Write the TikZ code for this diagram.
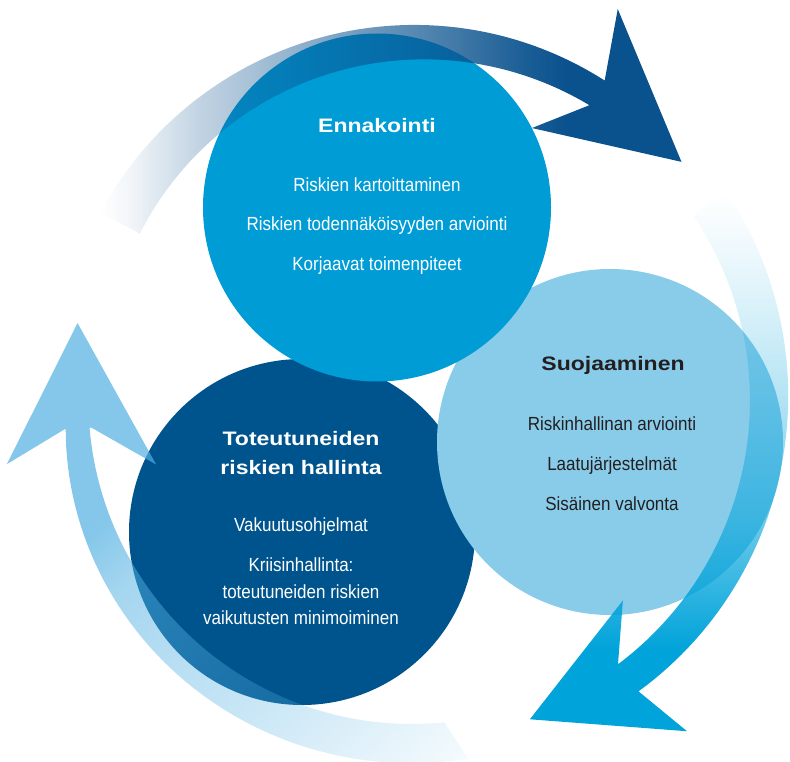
\documentclass[tikz,border=0pt]{standalone}
\usepackage{fontspec}
\usetikzlibrary{fadings}
\newfontfamily\bodyfont{Liberation Sans}[FakeStretch=0.895]
\newfontfamily\headfont{Liberation Sans}[FakeStretch=1.18]

\definecolor{ennblue}{RGB}{0,156,214}
\definecolor{suoblue}{RGB}{137,204,234}
\definecolor{totnavy}{RGB}{0,84,141}
\definecolor{darktext}{RGB}{35,31,32}
\definecolor{arrowtop}{RGB}{10,82,142}
\definecolor{arrowright}{RGB}{0,163,218}
\definecolor{arrowleft}{RGB}{80,175,225}

\begin{document}
% opacity ramps for the three cycle arrows (tail fades out);
% the path's bounding box covers the middle half of each ramp
\pgfdeclarehorizontalshading{topfadeshade}{100bp}{color(0bp)=(pgftransparent!100); color(25bp)=(pgftransparent!100); color(27.5bp)=(pgftransparent!95); color(33.5bp)=(pgftransparent!75); color(42bp)=(pgftransparent!55); color(53.5bp)=(pgftransparent!28); color(61bp)=(pgftransparent!8); color(65bp)=(pgftransparent!0); color(100bp)=(pgftransparent!0)}
\pgfdeclarefading{topfade}{\pgfuseshading{topfadeshade}}
\pgfdeclareverticalshading{rightfadeshade}{100bp}{color(0bp)=(pgftransparent!0); color(32.5bp)=(pgftransparent!0); color(37bp)=(pgftransparent!15); color(45bp)=(pgftransparent!45); color(55.5bp)=(pgftransparent!70); color(64.5bp)=(pgftransparent!86); color(72bp)=(pgftransparent!97); color(75bp)=(pgftransparent!100); color(100bp)=(pgftransparent!100)}
\pgfdeclarefading{rightfade}{\pgfuseshading{rightfadeshade}}
\pgfdeclarehorizontalshading{leftfadeshade}{200bp}{color(0bp)=(pgftransparent!30); color(87.5bp)=(pgftransparent!30); color(94.5bp)=(pgftransparent!49); color(114.5bp)=(pgftransparent!70); color(133bp)=(pgftransparent!93); color(136bp)=(pgftransparent!100); color(200bp)=(pgftransparent!100)}
\pgfdeclarefading{leftfade}{\pgfuseshading{leftfadeshade}}
\begin{tikzpicture}[x=1pt,y=-1pt,
  disc/.style={circle, minimum size=#1, inner sep=0pt, draw=none},
  headtext/.style={font=\headfont\bfseries\fontsize{19.5}{23}\selectfont, anchor=base, inner sep=0pt},
  bodytext/.style={font=\bodyfont\fontsize{19}{23}\selectfont, anchor=base, inner sep=0pt}]
\useasboundingbox (0,0) rectangle (790,762);

% the three phase discs
\node[disc=346pt, fill=totnavy] (toteutuneet) at (302,532) {};
\node[disc=346pt, fill=suoblue] (suojaaminen) at (610,442) {};
\node[disc=348pt, fill=ennblue] (ennakointi) at (377,207.5) {};

% arrow over the top: Ennakointi -> Suojaaminen
\begin{scope}[shift={(420,380)}]
  \fill[arrowtop, path fading=topfade]
    plot[domain=-152.4:-58.3, samples=60] (\x:{361-9*(\x+152.4)/94.1})
    -- (-61.9:420.5) -- (-39.8:340.8) -- (-66:275.8) -- (-58.3:323)
    -- plot[domain=-58.3:-152.4, samples=60] (\x:{316+7*(\x+152.4)/94.1})
    -- cycle;
\end{scope}

% arrow down the right side: Suojaaminen -> Toteutuneiden riskien hallinta
\begin{scope}[shift={(420,400)}]
  \fill[arrowright, path fading=rightfade]
    plot[domain=-34.6:53.1, samples=60] (\x:{371-7*(\x+34.6)/87.7})
    -- (51.1:425.3) -- (71.0:337.4) -- (44.6:285) -- (53.1:329.8)
    -- plot[domain=53.1:-34.1, samples=60] (\x:{330})
    -- cycle;
\end{scope}

% arrow up the left side: Toteutuneiden riskien hallinta -> Ennakointi
\begin{scope}[shift={(420,400)}]
  \fill[arrowleft, path fading=leftfade, fading angle=-45]
    plot[domain=81:175.4, samples=60] (\x:{364.5-15.5*((\x-81)/94.4)^3})
    -- (171.1:412) -- (193.1:344.9) -- (166.0:264.8) -- (175.2:323.1)
    -- plot[domain=175.2:84.2, samples=60] (\x:{325})
    -- cycle;
\end{scope}

% Ennakointi
\node[headtext, white] (enn-title) at (377,132.3) {Ennakointi};
\node[bodytext, white] (enn-1) at (377,191.7) {Riskien kartoittaminen};
\node[bodytext, white] (enn-2) at (377,230.7) {Riskien todennäköisyyden arviointi};
\node[bodytext, white] (enn-3) at (377,270.7) {Korjaavat toimenpiteet};

% Suojaaminen
\node[headtext, darktext] (suo-title) at (613,370) {Suojaaminen};
\node[bodytext, darktext] (suo-1) at (612,430.7) {Riskinhallinan arviointi};
\node[bodytext, darktext] (suo-2) at (612,470.7) {Laatujärjestelmät};
\node[bodytext, darktext] (suo-3) at (612,510.7) {Sisäinen valvonta};

% Toteutuneiden riskien hallinta
\node[headtext, white] (tot-title1) at (301,445.7) {Toteutuneiden};
\node[headtext, white] (tot-title2) at (301,474.2) {riskien hallinta};
\node[bodytext, white] (tot-1) at (301,531.7) {Vakuutusohjelmat};
\node[bodytext, white] (tot-2) at (301,571.7) {Kriisinhallinta:};
\node[bodytext, white] (tot-3) at (301,598.3) {toteutuneiden riskien};
\node[bodytext, white] (tot-4) at (301,624.3) {vaikutusten minimoiminen};
\end{tikzpicture}
\end{document}
